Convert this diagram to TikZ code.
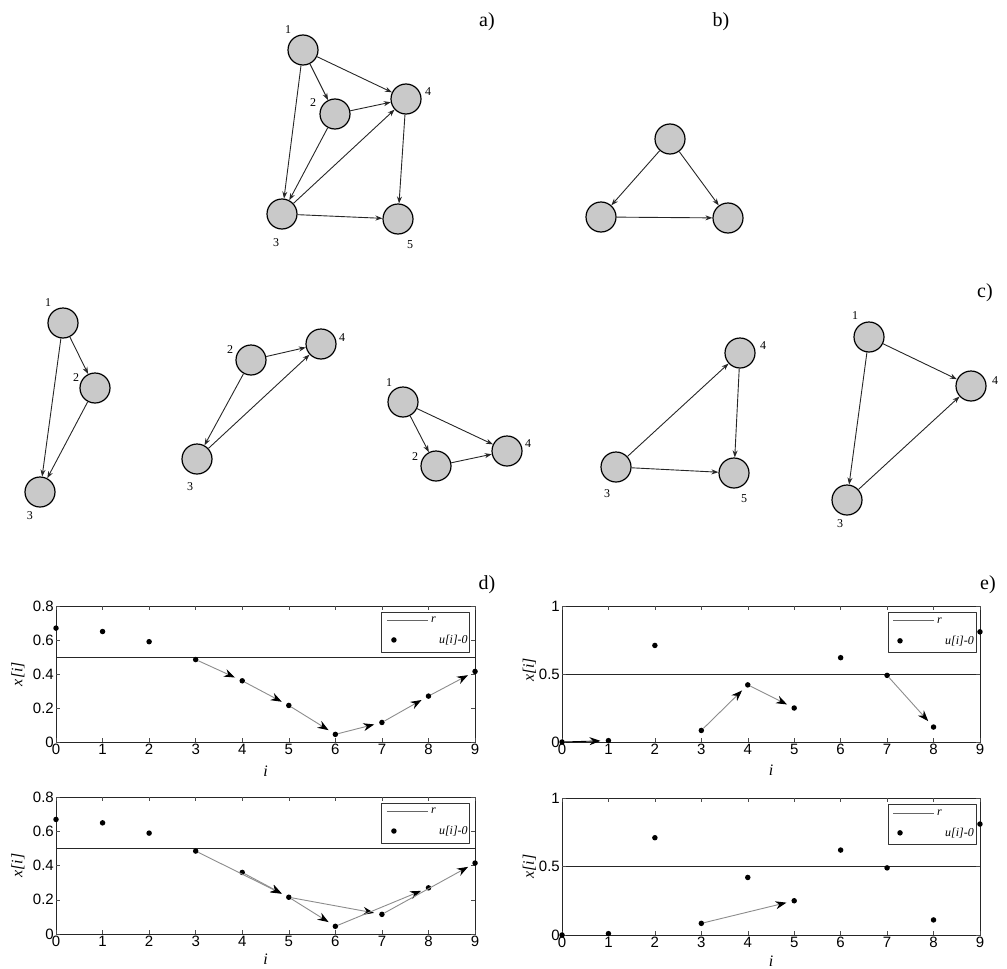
\documentclass[tikz,border=0pt]{standalone}
\usepackage{fontspec}
\setmainfont{Liberation Serif}
\newfontfamily\axisfont{Liberation Sans}
\usetikzlibrary{arrows.meta, positioning}
\definecolor{vxgray}{HTML}{C9C9C9}
\definecolor{trailgray}{HTML}{8C8C8C}

% frame, threshold line, ticks and tick labels of one plot (data coordinates)
\newcommand{\plotaxes}[3]{% #1 prefix, #2 top value, #3 y ticks
  \draw[frame] (0,0) rectangle (9,#2);
  \draw[frame] (0,0.5) -- (9,0.5);
  \foreach \i in {0,...,9} {
    \draw[tickmark] (\i,0) -- ++(0,4pt);
    \draw[tickmark] (\i,#2) -- ++(0,-4pt);
    \node[ticklab, below] (#1x\i) at (\i,0) {\i};
  }
  \foreach \v [count=\n] in {#3} {
    \draw[tickmark] (0,\v) -- ++(4pt,0);
    \draw[tickmark] (9,\v) -- ++(-4pt,0);
    \node[ticklab, left] (#1y\n) at (0,\v) {\v};
  }
}
% legend box, #2 = its top left corner
\newcommand{\rlegend}[2]{%
  \begin{scope}[shift={#2}, x=1pt, y=-1pt]
    \draw[legbox] (0,0) rectangle (88,40);
    \draw[draw=black!60, line width=0.7pt] (5,8) -- (46,8);
    \node[legtxt, anchor=west] (#1r) at (49,8) {r};
    \node[dot] (#1d) at (12,28) {};
    \node[legtxt, anchor=east] (#1u) at (86,28) {u[i]-0};
  \end{scope}}

\begin{document}
\begin{tikzpicture}[
  x=1pt, y=-1pt,
  line join=round,
  vertex/.style={circle, draw=black, line width=1.2pt, fill=vxgray,
    minimum size=30pt, inner sep=0pt},
  edge/.style={draw=black!85, line width=0.9pt, -{Stealth[length=7pt,width=5pt]}},
  vlab/.style={font=\fontsize{12}{12}\selectfont, inner sep=0pt},
  panel/.style={font=\fontsize{20}{20}\selectfont, inner sep=0pt},
  frame/.style={draw=black!85, line width=0.9pt},
  tickmark/.style={draw=black!70, line width=0.5pt},
  ticklab/.style={font=\axisfont\fontsize{15}{15}\selectfont, inner sep=2pt},
  axlab/.style={font=\fontsize{16}{16}\selectfont\itshape, inner sep=0pt},
  dot/.style={circle, fill=black, minimum size=5.5pt, inner sep=0pt},
  trail/.style={draw=trailgray, line width=0.9pt, shorten >=5pt,
    -{Stealth[length=11pt,width=8pt,black]}},
  legbox/.style={draw=black!80, line width=0.9pt, fill=white},
  legtxt/.style={font=\fontsize{12}{12}\selectfont\itshape, inner sep=0pt},
]
\useasboundingbox (0,0) rectangle (1007,969);

% a) whole graph
\node[panel] (pa) at (487,22) {a)};
\node[vertex] (a1) at (303,50) {};
\node[vertex] (a2) at (335,114) {};
\node[vertex] (a4) at (406,99) {};
\node[vertex] (a3) at (282,214) {};
\node[vertex] (a5) at (398,219) {};
\node[vlab] (a1l) at (288,30) {1};
\node[vlab] (a2l) at (313,103) {2};
\node[vlab] (a4l) at (428,92) {4};
\node[vlab] (a3l) at (276,243) {3};
\node[vlab] (a5l) at (410,245) {5};
\draw[edge] (a1) -- (a2);
\draw[edge] (a1) -- (a4);
\draw[edge] (a1) -- (a3);
\draw[edge] (a2) -- (a4);
\draw[edge] (a2) -- (a3);
\draw[edge] (a3) -- (a4);
\draw[edge] (a4) -- (a5);
\draw[edge] (a3) -- (a5);

% b) triangle
\node[panel] (pb) at (721,22) {b)};
\node[vertex] (b1) at (670,139) {};
\node[vertex] (b2) at (601,217) {};
\node[vertex] (b3) at (728,218) {};
\draw[edge] (b1) -- (b2);
\draw[edge] (b1) -- (b3);
\draw[edge] (b2) -- (b3);

% c) the five sub-graphs
\node[panel] (pc) at (985,293) {c)};

\node[vertex] (ca1) at (63,323) {};
\node[vertex] (ca2) at (95,388) {};
\node[vertex] (ca3) at (40,492) {};
\node[vlab] (ca1l) at (48,303) {1};
\node[vlab] (ca2l) at (76,378) {2};
\node[vlab] (ca3l) at (30,516) {3};
\draw[edge] (ca1) -- (ca2);
\draw[edge] (ca1) -- (ca3);
\draw[edge] (ca2) -- (ca3);

\node[vertex] (cb2) at (251,360) {};
\node[vertex] (cb4) at (321,344) {};
\node[vertex] (cb3) at (197,459) {};
\node[vlab] (cb2l) at (230,350) {2};
\node[vlab] (cb4l) at (342,338) {4};
\node[vlab] (cb3l) at (190,487) {3};
\draw[edge] (cb2) -- (cb4);
\draw[edge] (cb2) -- (cb3);
\draw[edge] (cb3) -- (cb4);

\node[vertex] (cc1) at (403,402) {};
\node[vertex] (cc2) at (436,466) {};
\node[vertex] (cc4) at (507,451) {};
\node[vlab] (cc1l) at (389,383) {1};
\node[vlab] (cc2l) at (415,457) {2};
\node[vlab] (cc4l) at (528,444) {4};
\draw[edge] (cc1) -- (cc2);
\draw[edge] (cc1) -- (cc4);
\draw[edge] (cc2) -- (cc4);

\node[vertex] (cd4) at (740,353) {};
\node[vertex] (cd3) at (616,467) {};
\node[vertex] (cd5) at (734,473) {};
\node[vlab] (cd4l) at (763,346) {4};
\node[vlab] (cd3l) at (607,494) {3};
\node[vlab] (cd5l) at (744,499) {5};
\draw[edge] (cd3) -- (cd4);
\draw[edge] (cd4) -- (cd5);
\draw[edge] (cd3) -- (cd5);

\node[vertex] (ce1) at (869,337) {};
\node[vertex] (ce4) at (971,386) {};
\node[vertex] (ce3) at (847,500) {};
\node[vlab] (ce1l) at (855,316) {1};
\node[vlab] (ce4l) at (995,381) {4};
\node[vlab] (ce3l) at (840,524) {3};
\draw[edge] (ce1) -- (ce4);
\draw[edge] (ce1) -- (ce3);
\draw[edge] (ce3) -- (ce4);

% d) left plots
\node[panel] (pd) at (487,585) {d)};
\begin{scope}[shift={(56,742)}, x=46.56pt, y=170pt]
  \plotaxes{dA}{0.8}{0,0.2,0.4,0.6,0.8}
  \node[axlab, rotate=90] (dAyl) at (-0.82,0.4) {x[i]};
  \node[axlab] (dAxl) at (4.5,-0.17) {i};
  \rlegend{dAl}{(7.0,0.765)}
  \foreach \v [count=\k from 0] in {0.67,0.65,0.59,0.485,0.36,0.215,0.045,0.115,0.27,0.415}
    \node[dot] (dA\k) at (\k,\v) {};
  \foreach \a/\b in {3/4,4/5,5/6,6/7,7/8,8/9}
    \draw[trail] (dA\a) -- (dA\b);
\end{scope}

\begin{scope}[shift={(56,934)}, x=46.56pt, y=171pt]
  \plotaxes{dB}{0.8}{0,0.2,0.4,0.6,0.8}
  \node[axlab, rotate=90] (dByl) at (-0.82,0.4) {x[i]};
  \node[axlab] (dBxl) at (4.5,-0.15) {i};
  \rlegend{dBl}{(7.0,0.766)}
  \foreach \v [count=\k from 0] in {0.67,0.65,0.59,0.485,0.36,0.215,0.045,0.115,0.27,0.415}
    \node[dot] (dB\k) at (\k,\v) {};
  \foreach \a/\b in {3/5,4/5,5/6,5/7,6/8,7/9}
    \draw[trail] (dB\a) -- (dB\b);
\end{scope}

% e) right plots
\node[panel] (pe) at (988,585) {e)};
\begin{scope}[shift={(562,742)}, x=46.44pt, y=136pt]
  \plotaxes{eA}{1}{0,0.5,1}
  \node[axlab, rotate=90] (eAyl) at (-0.7,0.53) {x[i]};
  \node[axlab] (eAxl) at (4.5,-0.21) {i};
  \rlegend{eAl}{(7.02,0.95)}
  \foreach \v [count=\k from 0] in {0,0.01,0.71,0.085,0.42,0.25,0.62,0.49,0.11,0.81}
    \node[dot] (eA\k) at (\k,\v) {};
  \draw[trail, draw=black] (eA0) -- (eA1);
  \foreach \a/\b in {3/4,4/5,7/8}
    \draw[trail] (eA\a) -- (eA\b);
\end{scope}

\begin{scope}[shift={(562,935)}, x=46.44pt, y=137pt]
  \plotaxes{eB}{1}{0,0.5,1}
  \node[axlab, rotate=90] (eByl) at (-0.7,0.5) {x[i]};
  \node[axlab] (eBxl) at (4.5,-0.19) {i};
  \rlegend{eBl}{(7.02,0.95)}
  \foreach \v [count=\k from 0] in {0,0.01,0.71,0.085,0.42,0.25,0.62,0.49,0.11,0.81}
    \node[dot] (eB\k) at (\k,\v) {};
  \draw[trail] (eB3) -- (eB5);
\end{scope}
\end{tikzpicture}
\end{document}
